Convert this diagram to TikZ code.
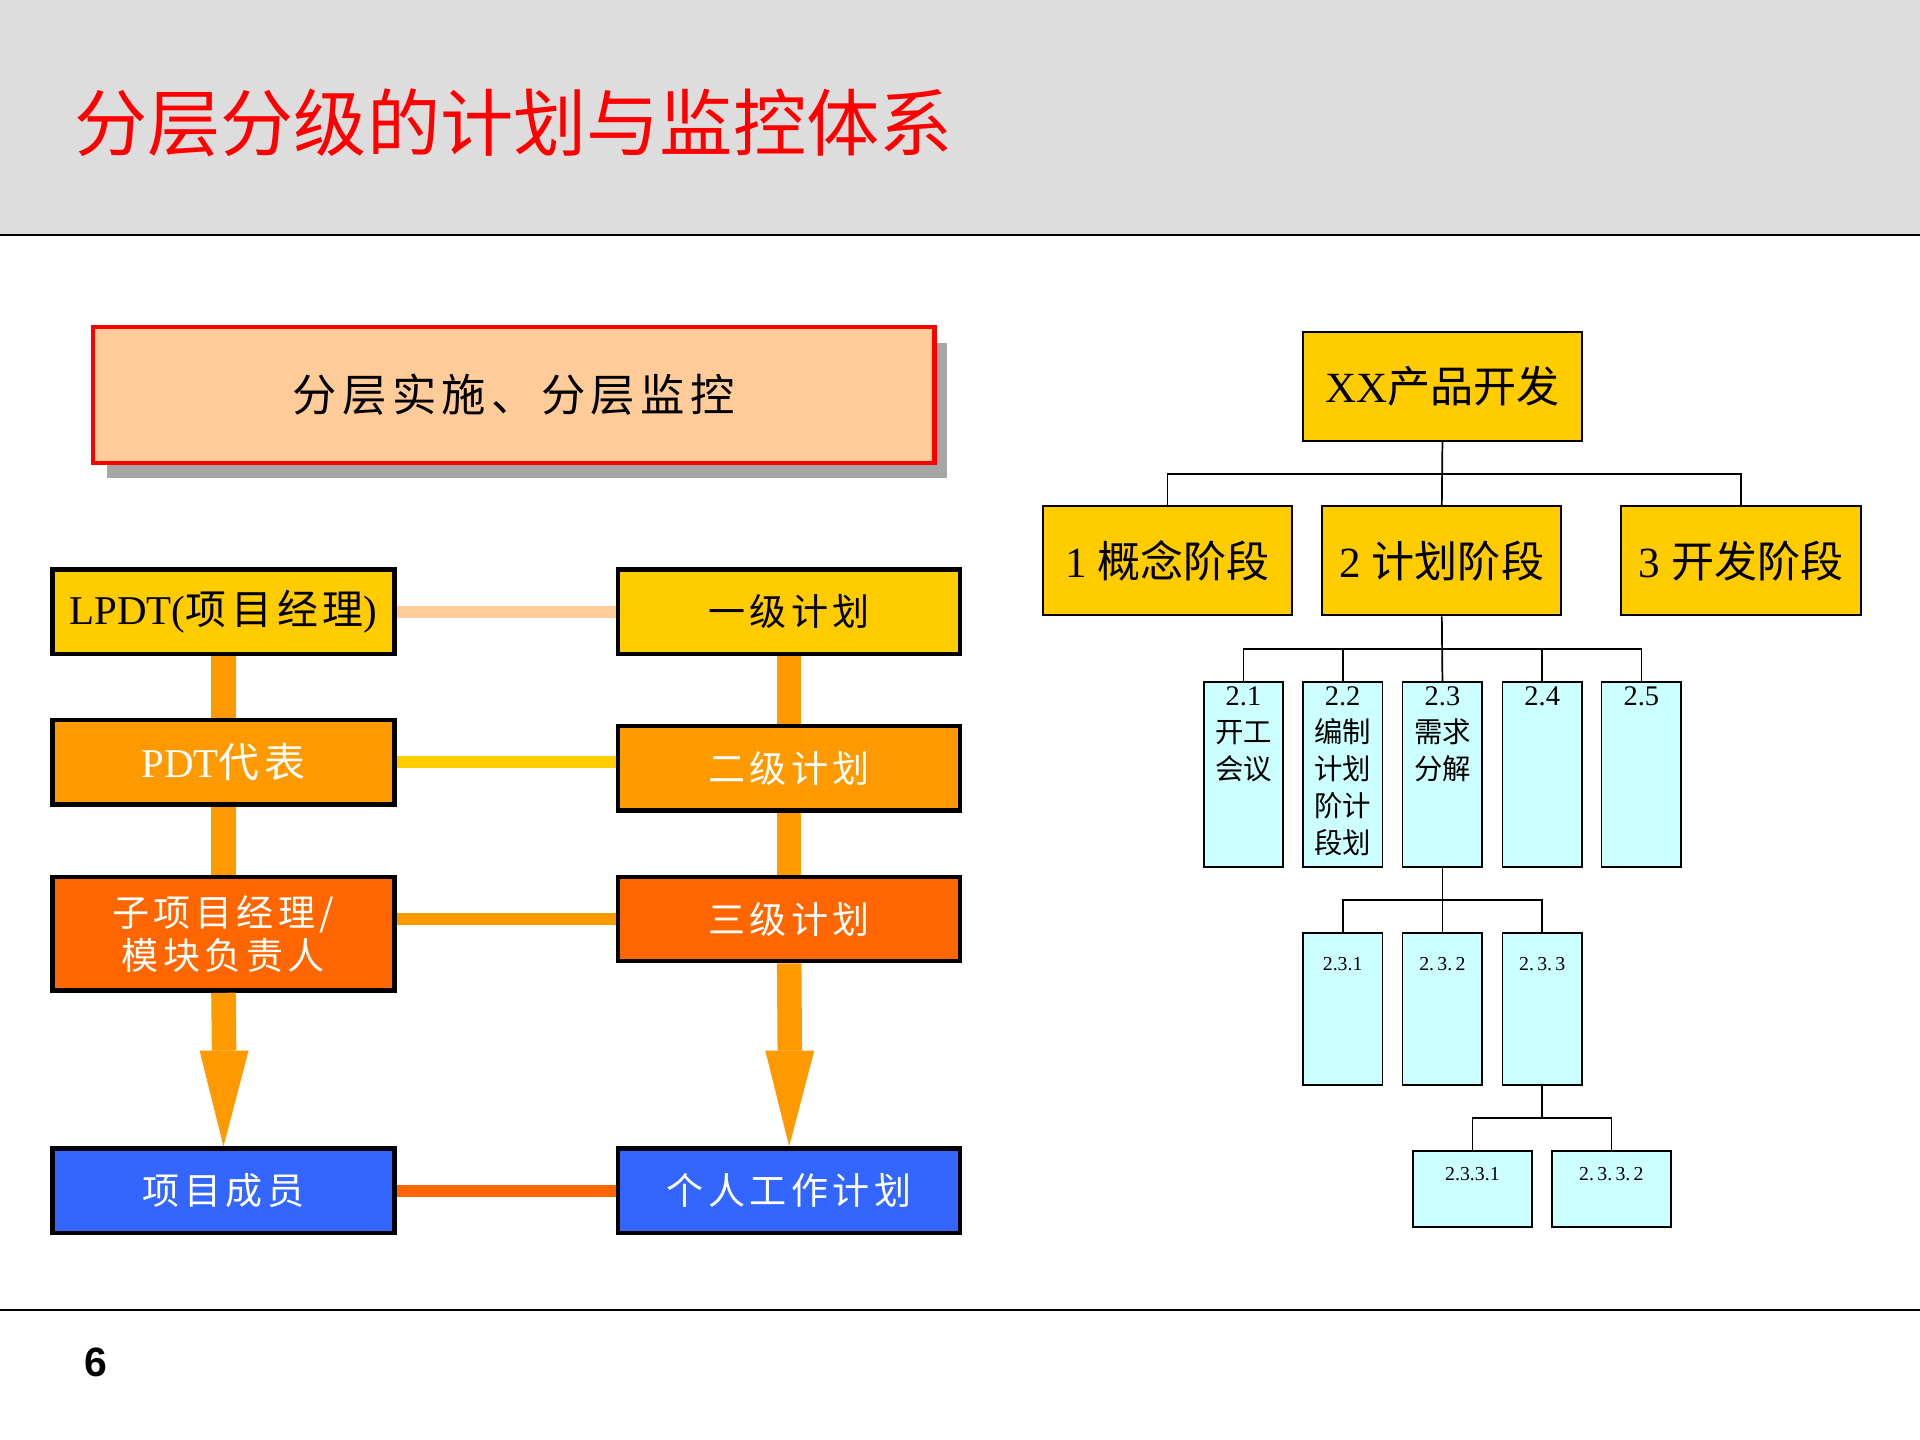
\documentclass[tikz,border=0pt]{standalone}
\usepackage{fontspec}
\setmainfont{Liberation Serif}
\newfontfamily\cjk{Noto Sans CJK SC}
\newfontfamily\cjksp[LetterSpace=12]{Noto Sans CJK SC}
\newfontfamily\arialf{Liberation Sans}
\definecolor{peach}{HTML}{FFCC99}
\definecolor{gold}{HTML}{FFCC00}
\definecolor{orng}{HTML}{FF9900}
\definecolor{dorng}{HTML}{FF6600}
\definecolor{blu}{HTML}{3366FF}
\definecolor{cyn}{HTML}{CCFFFF}
\definecolor{hdr}{HTML}{DDDDDD}
\tikzset{
 x=0.01cm,y=-0.01cm,
 lbox/.style={draw=black,line width=1pt,minimum width=2.79cm,minimum height=0.69cm,inner sep=0pt,font=\fontsize{8.6}{10}\cjksp},
 tbox/.style={draw=black,line width=0.5pt,fill=gold,minimum height=0.89cm,inner sep=0pt,font=\fontsize{10}{12}\selectfont},
 cbox/.style={draw=black,line width=0.4pt,fill=cyn,minimum width=0.65cm,inner sep=0pt},
 ctext/.style={anchor=north,align=center,inner sep=0pt,font=\fontsize{6.6}{8.6}\selectfont},
 small/.style={anchor=north,inner sep=0pt,font=\fontsize{4.6}{5.5}\selectfont},
 vbar/.style={line width=0.2cm,draw=orng},
 hbar/.style={line width=0.1cm},
 tree/.style={draw=black,line width=0.4pt},
}
\begin{document}
\begin{tikzpicture}
\useasboundingbox (0,0) rectangle (1568,1176);
\fill[white] (0,0) rectangle (1568,1176);
\fill[hdr] (0,0) rectangle (1568,192);
\draw[line width=0.6pt] (0,192) -- (1568,192);
\draw[line width=0.6pt] (0,1070) -- (1568,1070);
\node[anchor=west,inner sep=0pt,text=red,font=\fontsize{17}{20}\cjk] (title) at (60,100) {分层分级的计划与监控体系};
\node[inner sep=0pt,font=\fontsize{9.5}{11}\arialf\bfseries] (pg) at (78,1113) {6};
% top-left box
\fill[gray!70] (87,280) rectangle (773,390);
\node[draw=red,line width=1pt,fill=peach,minimum width=6.87cm,minimum height=1.11cm,inner sep=0pt,font=\fontsize{10.3}{12}\cjksp] (motto) at (419.5,322.5) {分层实施、分层监控};
% horizontal connectors
\coordinate (a) at (0,0);
\node[lbox,fill=gold] (L1) at (182.5,499.5) {\rmfamily\fontsize{9.5}{11}\selectfont LPDT(\cjksp 项目经理\rmfamily)};
\node[lbox,fill=gold] (R1) at (644.5,499.5) {一级计划};
\node[lbox,fill=orng,text=white] (L2) at (182.5,622.5) {\rmfamily\fontsize{9.5}{11}\selectfont PDT\cjksp 代表};
\node[lbox,fill=orng,text=white] (R2) at (644.5,627.5) {二级计划};
\node[lbox,fill=dorng,text=white,minimum height=0.93cm,align=center] (L3) at (182.5,762.5) {子项目经理/\\模块负责人};
\node[lbox,fill=dorng,text=white] (R3) at (644.5,750.5) {三级计划};
\node[lbox,fill=blu,text=white] (L4) at (182.5,972.5) {项目成员};
\node[lbox,fill=blu,text=white] (R4) at (644.5,972.5) {个人工作计划};
\draw[hbar,peach] (L1.east) -- (R1.west);
\draw[hbar,gold] (L2.east) -- (L2.east -| R2.west);
\draw[hbar,orng] (L3.east |- R3.west) -- (R3.west);
\draw[hbar,dorng] (L4.east) -- (R4.west);
\draw[vbar] (L1.south) -- (L2.north);
\draw[vbar] (L2.south) -- (L3.north);
\draw[vbar] (R1.south) -- (R2.north);
\draw[vbar] (R2.south) -- (R3.north);
\coordinate (lh) at (183,858);
\coordinate (rh) at (645,858);
\draw[vbar] (L3.south) -- (lh);
\draw[vbar] (R3.south) -- (rh);
\fill[orng] (163,858) -- (203,858) -- (L4.north) -- cycle;
\fill[orng] (625,858) -- (665,858) -- (R4.north) -- cycle;
% tree
\node[tbox,minimum width=2.28cm] (root) at (1178,315.5) {XX{\cjk 产品开发}};
\node[tbox,minimum width=2.03cm] (p1) at (953.5,458) {1 {\cjk 概念阶段}};
\node[tbox,minimum width=1.95cm] (p2) at (1177.5,458) {2 {\cjk 计划阶段}};
\node[tbox,minimum width=1.96cm] (p3) at (1422,458) {3 {\cjk 开发阶段}};
\coordinate (b1) at (1178,387);
\draw[tree] (root.south) -- (p2.north);
\draw[tree] (p1.north) |- (b1) -| (p3.north);
\foreach \n/\x/\t in {s1/1015.5/{2.1\\{\cjk 开工}\\{\cjk 会议}},s2/1096.5/{2.2\\{\cjk 编制}\\{\cjk 计划}\\{\cjk 阶计}\\{\cjk 段划}},s3/1178/{2.3\\{\cjk 需求}\\{\cjk 分解}},s4/1259.5/{2.4},s5/1340.5/{2.5}}{
 \node[cbox,minimum height=1.51cm] (\n) at (\x,632.5) {};
 \node[ctext] (\n t) at ([yshift=-0.04cm]\n.north) {\t};
}
\coordinate (b2) at (1178,530);
\draw[tree] (p2.south) -- (s3.north);
\draw[tree] (s1.north) |- (b2) -| (s5.north);
\draw[tree] (s2.north) -- (s2.north |- b2);
\draw[tree] (s4.north) -- (s4.north |- b2);
\foreach \n/\x/\t in {t1/1096.5/{2.3.1},t2/1178/{2.\,3.\,2},t3/1259.5/{2.\,3.\,3}}{
 \node[cbox,minimum height=1.24cm] (\n) at (\x,824) {};
 \node[small] (\n t) at ([yshift=-0.2cm]\n.north) {\t};
}
\coordinate (b3) at (1178,735);
\draw[tree] (s3.south) -- (t2.north);
\draw[tree] (t1.north) |- (b3) -| (t3.north);
\foreach \n/\x/\t in {u1/1202.5/{2.3.3.1},u2/1316/{2.\,3.\,3.\,2}}{
 \node[cbox,minimum width=0.97cm,minimum height=0.62cm] (\n) at (\x,971) {};
 \node[small] (\n t) at ([yshift=-0.13cm]\n.north) {\t};
}
\coordinate (b4) at (1259.5,913);
\draw[tree] (t3.south) -- (b4);
\draw[tree] (u1.north) |- (b4) -| (u2.north);
\end{tikzpicture}
\end{document}
